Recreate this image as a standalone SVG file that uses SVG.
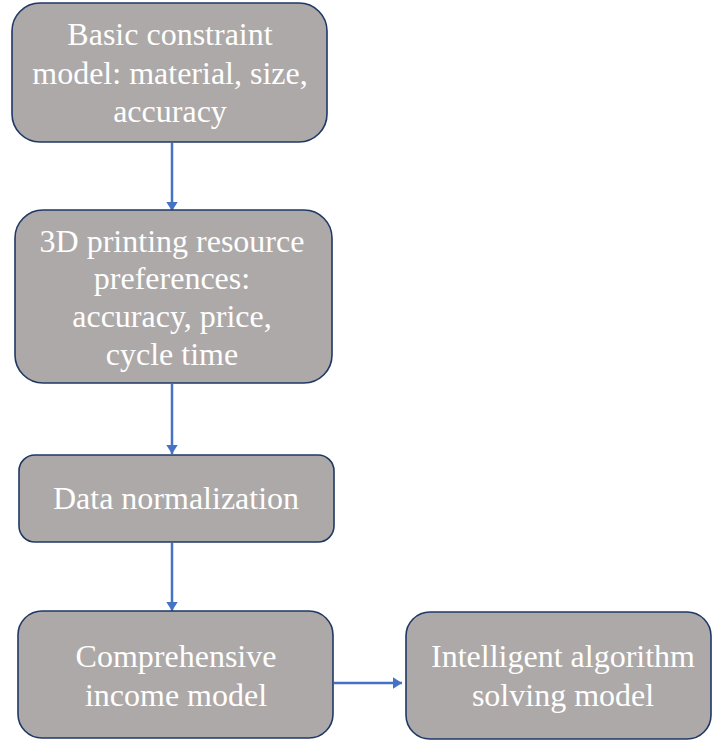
<svg xmlns="http://www.w3.org/2000/svg" width="712" height="742" viewBox="0 0 712 742">
  <style>
    .box { fill: #ADA9A8; stroke: #1F3864; stroke-width: 1.6; }
    .lbl { font-family: "Liberation Serif", "Times New Roman", serif; font-size: 32px; fill: #FFFFFF; text-anchor: middle; }
    .edge { stroke: #4472C4; stroke-width: 2.5; fill: none; marker-end: url(#head); }
  </style>
  <defs>
    <!-- filled triangular arrowhead for every connector -->
    <marker id="head" viewBox="0 0 10 10" refX="10" refY="5" markerWidth="3.8" markerHeight="4.8" orient="auto" markerUnits="strokeWidth" preserveAspectRatio="none">
      <path d="M0,0 L10,5 L0,10 z" fill="#4472C4"/>
    </marker>
  </defs>

  <g id="connectors">
    <line class="edge" x1="172" y1="143" x2="172" y2="211"/>
    <line class="edge" x1="172" y1="384" x2="172" y2="454"/>
    <line class="edge" x1="172" y1="543" x2="172" y2="611"/>
    <line class="edge" x1="334" y1="683" x2="402" y2="683"/>
  </g>

  <g id="basic-constraint">
    <rect class="box" x="12" y="3" width="315" height="139" rx="28"/>
    <text class="lbl" x="170" y="45">Basic constraint</text>
    <text class="lbl" x="170" y="84">model: material, size,</text>
    <text class="lbl" x="170" y="122">accuracy</text>
  </g>

  <g id="resource-preferences">
    <rect class="box" x="15" y="210" width="317" height="173" rx="28"/>
    <text class="lbl" x="172" y="252">3D printing resource</text>
    <text class="lbl" x="172" y="289">preferences:</text>
    <text class="lbl" x="172" y="327">accuracy, price,</text>
    <text class="lbl" x="172" y="365">cycle time</text>
  </g>

  <g id="data-normalization">
    <rect class="box" x="19" y="455" width="315" height="87" rx="16"/>
    <text class="lbl" x="176" y="509">Data normalization</text>
  </g>

  <g id="comprehensive-income">
    <rect class="box" x="18" y="611" width="315" height="127" rx="24"/>
    <text class="lbl" x="176" y="667">Comprehensive</text>
    <text class="lbl" x="176" y="706">income model</text>
  </g>

  <g id="intelligent-algorithm">
    <rect class="box" x="406" y="612" width="305" height="127" rx="24"/>
    <text class="lbl" x="563" y="667">Intelligent algorithm</text>
    <text class="lbl" x="563" y="706">solving model</text>
  </g>
</svg>
